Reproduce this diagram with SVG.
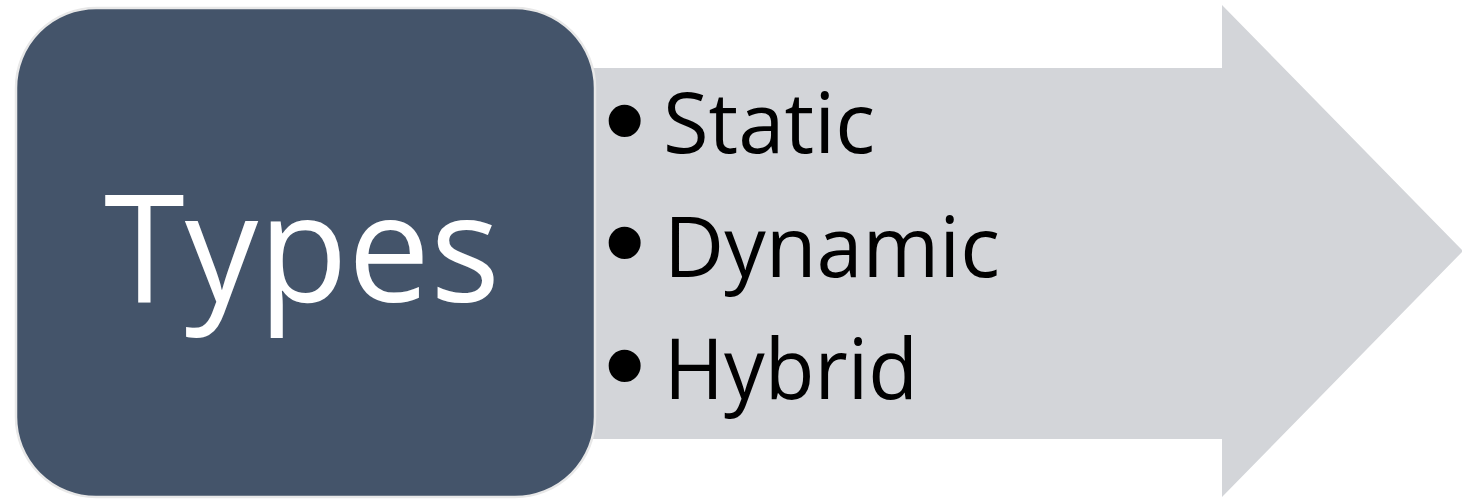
<svg xmlns="http://www.w3.org/2000/svg" width="1462" height="501" viewBox="0 0 1462 501">
<style>
.arrow{fill:#d3d5d9}
.box{fill:#44546a;stroke:#e8e8e8;stroke-width:2.5}
.title{font-family:"Open Sans","Liberation Sans",sans-serif;font-size:150px;fill:#ffffff}
.item{font-family:"Open Sans","Liberation Sans",sans-serif;font-size:84px;fill:#000000}
.bul{font-family:"Liberation Sans",sans-serif;font-size:118px;fill:#000000}
</style>
<g id="arrow">
<polygon class="arrow" points="590,68 1222,68 1222,5 1463,251 1222,497 1222,439 590,439"/>
<text class="bul" x="604" y="160">•</text>
<text class="item" x="663" y="153" textLength="212" lengthAdjust="spacingAndGlyphs">Static</text>
<text class="bul" x="604" y="282">•</text>
<text class="item" x="664" y="277" textLength="336" lengthAdjust="spacingAndGlyphs">Dynamic</text>
<text class="bul" x="604" y="405">•</text>
<text class="item" x="664" y="399" textLength="254" lengthAdjust="spacingAndGlyphs">Hybrid</text>
</g>
<g id="types">
<rect class="box" x="16" y="8" width="579" height="489" rx="80" ry="80"/>
<text class="title" x="104" y="302" textLength="396" lengthAdjust="spacingAndGlyphs">Types</text>
</g>
<g id="connectors"/>
</svg>
